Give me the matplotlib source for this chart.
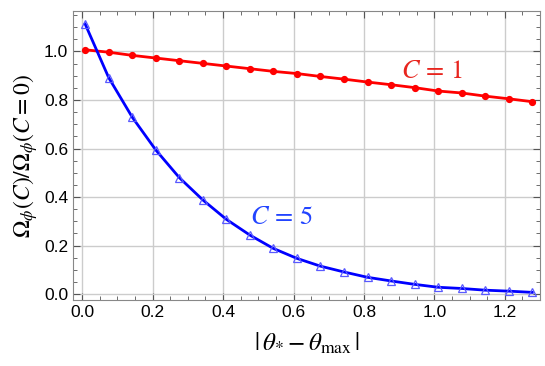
import matplotlib
matplotlib.use("Agg")
import matplotlib.pyplot as plt
from matplotlib.ticker import MultipleLocator

plt.rcParams['font.family'] = ['Liberation Sans', 'DejaVu Sans']
plt.rcParams['mathtext.fontset'] = 'stix'

# |theta_* - theta_max|
theta = [0.0085 + i * 0.0668 for i in range(20)]

# C = 1
ratio_c1 = [1.007, 0.997, 0.984, 0.973, 0.962, 0.951, 0.940, 0.929, 0.918, 0.909,
            0.897, 0.886, 0.874, 0.863, 0.851, 0.837, 0.829, 0.816, 0.805, 0.793]
# C = 5
ratio_c5 = [1.113, 0.892, 0.729, 0.594, 0.480, 0.388, 0.308, 0.243, 0.188, 0.147,
            0.115, 0.091, 0.069, 0.054, 0.040, 0.028, 0.023, 0.016, 0.012, 0.007]

fig = plt.figure(figsize=(5.45, 3.66), dpi=100)
ax = fig.add_axes([0.134, 0.180, 0.857, 0.790])

ax.plot(theta, ratio_c1, color='red', lw=2, marker='o', ms=4.2, zorder=3)
ax.plot(theta, ratio_c5, color='blue', lw=2, zorder=3)
ax.plot(theta, ratio_c5, ls='none', marker='^', ms=5.5, mfc='none',
        mec=(0.35, 0.35, 1.0), mew=0.9, zorder=4)

ax.text(0.905, 0.89, r'$C\,=\,1$', color='#e8251e', fontsize=19)
ax.text(0.475, 0.29, r'$C\,=\,5$', color='#2244ff', fontsize=19)

ax.set_xlim(-0.026, 1.30)
ax.set_ylim(-0.025, 1.167)
ax.xaxis.set_major_locator(MultipleLocator(0.2))
ax.xaxis.set_minor_locator(MultipleLocator(0.05))
ax.yaxis.set_major_locator(MultipleLocator(0.2))
ax.yaxis.set_minor_locator(MultipleLocator(0.05))
ax.xaxis.set_major_formatter(matplotlib.ticker.FormatStrFormatter('%.1f'))
ax.yaxis.set_major_formatter(matplotlib.ticker.FormatStrFormatter('%.1f'))

ax.tick_params(which='both', direction='in', top=True, right=True,
               color='#555555', labelsize=12.5)
ax.tick_params(which='major', length=5)
ax.tick_params(which='minor', length=3)
for s in ax.spines.values():
    s.set_color('#888888')

ax.grid(True, which='major', color='#cccccc', lw=1)
ax.set_axisbelow(True)

ax.set_xlabel(r'$|\,\theta_{*} - \theta_{\max}\,|$', fontsize=18, labelpad=8)
ax.set_ylabel(r'$\Omega_\phi(C)/\Omega_\phi(C=0)$', fontsize=17, labelpad=3)

fig.savefig('out.png', dpi=100)
